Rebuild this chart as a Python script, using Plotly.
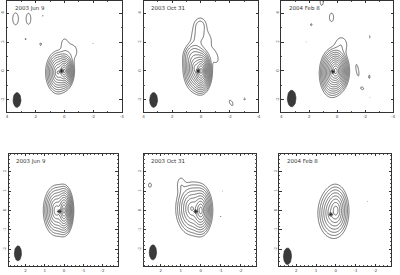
import numpy as np
import plotly.graph_objects as go

# ---------------- data ----------------
panel_titles = ["2003 Jun 9", "2003 Oct 31", "2004 Feb 8",
                "2003 Jun 9", "2003 Oct 31", "2004 Feb 8"]
panel_nlev = [11, 12, 12, 11, 10, 8]          # number of contour levels (factor 2)

# emission components: panel index, x, y (mas), amplitude (units of lowest contour),
# scale_x, scale_y (mas), position angle (deg), profile (0.6 = cuspy, 1 = gaussian)
comp_panel = [0, 0, 0, 0, 0, 0, 0, 0, 0, 0,
              1, 1, 1, 1, 1, 1, 1, 1,
              2, 2, 2, 2, 2, 2, 2, 2, 2, 2, 2,
              3, 3,
              4, 4, 4, 4, 4, 4,
              5, 5, 5, 5]
comp_x = [0.0, 0.45, -0.5, 0.0, 3.4, 2.5, 1.5, 2.7, 1.65, -2.0,
          0.0, 0.4, 0.55, 0.05, -0.35, -0.95, 0.3, -2.1,
          0.1, 0.4, -0.3, 1.1, 0.4, 1.85, 2.2, -1.45, -2.3, -1.8, -2.35,
          0.0, 0.4,
          0.0, 0.45, 1.0, 2.55, -1.1, -1.0,
          0.0, 0.25, -1.6, 2.7]
comp_y = [0.0, -0.1, 1.35, 1.9, 3.6, 3.6, 3.8, 2.2, 1.85, 1.9,
          0.0, 0.2, 1.0, 3.15, 2.3, 1.0, 2.3, -2.2,
          0.0, -0.2, 1.8, 4.75, 3.7, 3.2, 2.0, 0.05, -0.4, -1.2, -1.8,
          0.0, 0.0,
          0.0, 0.1, 1.35, 1.3, 1.0, -0.3,
          0.0, -0.15, 0.45, 0.05]
comp_amp = [1500, 300, 1.5, 1.2, 1.5, 1.5, 1.05, 1.1, 1.15, 1.05,
            3500, 300, 10, 2.6, 1.4, 1.4, 1.8, 1.3,
            3500, 300, 1.8, 1.3, 1.4, 1.2, 1.05, 1.3, 1.2, 1.2, 1.05,
            1700, 250,
            900, 150, 1.5, 1.3, 1.05, 1.05,
            230, 40, 1.05, 1.05]
comp_sx = [0.075, 0.113, 0.4, 0.2, 0.22, 0.18, 0.08, 0.08, 0.1, 0.06,
           0.078, 0.113, 0.3, 0.28, 0.35, 0.25, 0.3, 0.13,
           0.097, 0.113, 0.35, 0.15, 0.18, 0.08, 0.05, 0.12, 0.08, 0.16, 0.05,
           0.053, 0.092,
           0.068, 0.118, 0.15, 0.1, 0.04, 0.04,
           0.089, 0.123, 0.04, 0.04]
comp_sy = [0.139, 0.195, 0.5, 0.35, 0.45, 0.42, 0.08, 0.1, 0.16, 0.06,
           0.159, 0.218, 0.4, 0.35, 0.5, 0.5, 0.5, 0.28,
           0.156, 0.21, 0.45, 0.3, 0.35, 0.12, 0.05, 0.55, 0.18, 0.12, 0.05,
           0.137, 0.176,
           0.148, 0.198, 0.3, 0.15, 0.04, 0.06,
           0.179, 0.217, 0.04, 0.04]
comp_pa = [0, 0, 0, 0, 0, 0, 0, 0, 0, 0,
           0, 0, 0, 0, -30, -20, 0, -30,
           0, 0, 0, 0, 0, 0, 0, -10, 0, 30, 0,
           0, 0,
           0, 0, 0, 0, 0, 0,
           0, 0, 0, 0]
comp_shape = [0.6, 0.6, 1, 1, 1, 1, 1, 1, 1, 1,
              0.6, 0.6, 1, 1, 1, 1, 1, 1,
              0.6, 0.6, 1, 1, 1, 1, 1, 1, 1, 1, 1,
              0.6, 0.6,
              0.6, 0.6, 1, 1, 1, 1,
              0.6, 0.6, 1, 1]

# negative (dashed) contours
neg_panel = [1, 2]
neg_x = [-3.0, -2.3]
neg_y = [-1.9, 2.35]
neg_amp = [1.2, 1.2]
neg_sx = [0.08, 0.08]
neg_sy = [0.2, 0.15]
neg_pa = [-30, 0]

# reference position (cross) per panel
cross_x = [0.2, 0.2, 0.3, 0.25, 0.25, 0.25]
cross_y = [0.0, 0.0, -0.05, -0.05, -0.05, -0.2]

# restoring beam per panel: centre, full width, full height (mas)
beam_x = [3.3, 3.3, 3.25, 2.4, 2.4, 2.45]
beam_y = [-2.0, -2.0, -1.9, -2.2, -2.15, -2.35]
beam_w = [0.55, 0.55, 0.62, 0.37, 0.37, 0.41]
beam_h = [1.03, 1.03, 1.15, 0.77, 0.77, 0.85]

top_ticks = [4, 2, 0, -2, -4]
bot_ticks = [2, 1, 0, -1, -2]

# ---------------- layout geometry ----------------
W, H = 400, 275
px_x = [(5, 121), (143, 259), (282, 395), (7, 117), (143, 257), (280, 393)]
px_y = [(1, 112), (1, 112), (1, 112), (154, 266), (154, 266), (154, 266)]
xr_top, yr_top = [4, -4], [-2.83, 4.83]
xr_bot, yr_bot = [2.87, -2.8], [-2.85, 2.9]


def component(X, Y, x0, y0, a, sx, sy, pa, b):
    t = np.deg2rad(pa)
    dx, dy = X - x0, Y - y0
    u = dx * np.cos(t) + dy * np.sin(t)
    v = -dx * np.sin(t) + dy * np.cos(t)
    q = (u / sx) ** 2 + (v / sy) ** 2
    return a * np.exp(-0.5 * q ** b)


fig = go.Figure()
line_col = "#3c3c3c"

for p in range(6):
    top = p < 3
    xr = xr_top if top else xr_bot
    yr = yr_top if top else yr_bot
    step = 0.035 if top else 0.026
    xs = np.arange(min(xr) - 0.1, max(xr) + 0.1, step)
    ys = np.arange(min(yr) - 0.1, max(yr) + 0.1, step)
    X, Y = np.meshgrid(xs, ys)
    F = np.zeros_like(X)
    for i, pp in enumerate(comp_panel):
        if pp == p:
            F += component(X, Y, comp_x[i], comp_y[i], comp_amp[i], comp_sx[i],
                           comp_sy[i], comp_pa[i], comp_shape[i])
    Z = np.round(np.log2(np.maximum(F, 1e-6)), 3)
    ax = "" if p == 0 else str(p + 1)
    fig.add_trace(go.Contour(
        x=np.round(xs, 3), y=np.round(ys, 3), z=Z,
        contours=dict(start=0, end=panel_nlev[p] - 1, size=1, coloring="none"),
        line=dict(color=line_col, width=0.75, smoothing=1),
        showscale=False, hoverinfo="skip",
        xaxis="x" + ax, yaxis="y" + ax))
    # negative contours
    N = np.zeros_like(X)
    has_neg = False
    for i, pp in enumerate(neg_panel):
        if pp == p:
            has_neg = True
            N += component(X, Y, neg_x[i], neg_y[i], neg_amp[i], neg_sx[i],
                           neg_sy[i], neg_pa[i], 1)
    if has_neg:
        ZN = np.round(np.log2(np.maximum(N, 1e-6)), 3)
        fig.add_trace(go.Contour(
            x=np.round(xs, 3), y=np.round(ys, 3), z=ZN,
            contours=dict(start=0, end=0, size=1, coloring="none"),
            line=dict(color=line_col, width=0.75, dash="dot", smoothing=1),
            showscale=False, hoverinfo="skip",
            xaxis="x" + ax, yaxis="y" + ax))
    # beam
    th = np.linspace(0, 2 * np.pi, 60)
    fig.add_trace(go.Scatter(
        x=beam_x[p] + beam_w[p] / 2 * np.cos(th),
        y=beam_y[p] + beam_h[p] / 2 * np.sin(th),
        mode="lines", fill="toself", fillcolor="#3a3a3a",
        line=dict(color="#2a2a2a", width=0.6), hoverinfo="skip",
        showlegend=False, xaxis="x" + ax, yaxis="y" + ax))
    # cross
    fig.add_trace(go.Scatter(
        x=[cross_x[p]], y=[cross_y[p]], mode="markers",
        marker=dict(symbol="asterisk-open", size=4, color="#222",
                    line=dict(width=0.8, color="#222")),
        hoverinfo="skip", showlegend=False,
        xaxis="x" + ax, yaxis="y" + ax))

    axis_common = dict(showgrid=False, zeroline=False, showline=True,
                       linecolor="#333", linewidth=0.8, mirror="allticks",
                       ticks="inside", ticklen=2.5, tickwidth=0.6, tickcolor="#333",
                       tickfont=dict(size=4, color="#444", family="DejaVu Sans"),
                       minor=dict(ticks="inside", ticklen=1.3, tickwidth=0.5,
                                  tickcolor="#555",
                                  dtick=1 if top else 0.2))
    ticks = top_ticks if top else bot_ticks
    xd = [px_x[p][0] / W, px_x[p][1] / W]
    yd = [1 - px_y[p][1] / H, 1 - px_y[p][0] / H]
    fig.update_layout(**{
        "xaxis" + ax: dict(axis_common, domain=xd, range=xr, anchor="y" + ax,
                           tickvals=ticks, ticktext=[str(t) for t in ticks]),
        "yaxis" + ax: dict(axis_common, domain=yd, range=yr, anchor="x" + ax,
                           tickvals=ticks, ticktext=[str(t) for t in ticks],
                           tickangle=-90),
    })
    fig.add_annotation(text=panel_titles[p], xref=("x" + ax) + " domain",
                       yref=("y" + ax) + " domain", x=0.05, y=0.985,
                       xanchor="left", yanchor="top", showarrow=False,
                       font=dict(size=5.5, color="#333", family="DejaVu Sans"))

fig.update_layout(width=W, height=H, margin=dict(l=0, r=0, t=0, b=0),
                  paper_bgcolor="white", plot_bgcolor="white", showlegend=False)
fig.write_html("out.html")
